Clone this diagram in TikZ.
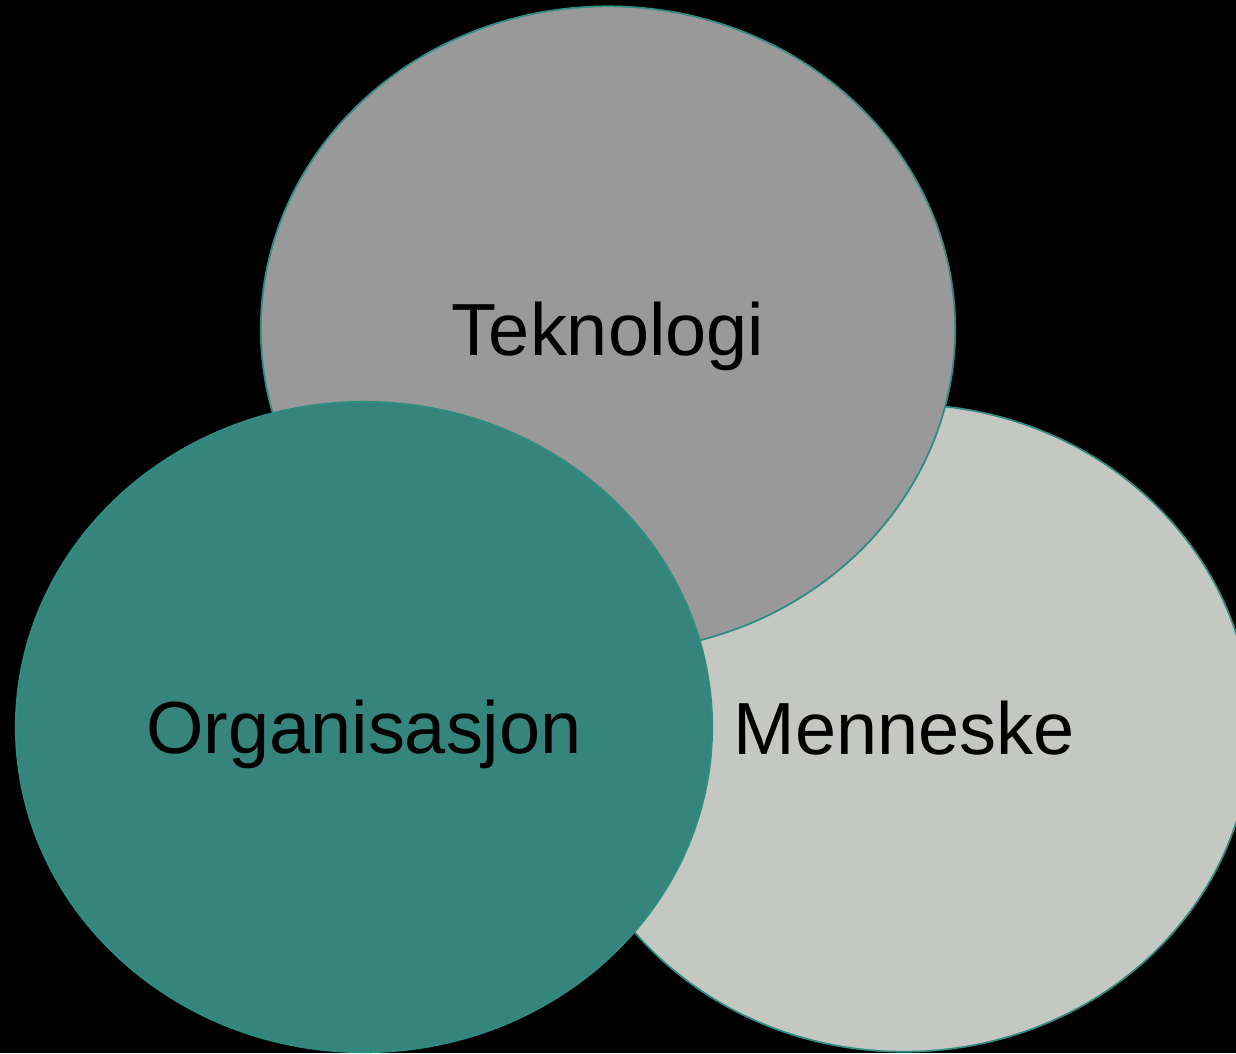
\documentclass[tikz,border=0pt]{standalone}
\usepackage{fontspec}
\setmainfont{Liberation Sans}
\usepackage{xcolor}
\definecolor{teal}{rgb}{0.21,0.52,0.49}
\definecolor{rim}{rgb}{0.18,0.55,0.50}
\definecolor{grey}{rgb}{0.60,0.60,0.60}
\definecolor{brightgrey}{rgb}{0.77,0.78,0.76}
\usepackage{tikz}
\usetikzlibrary{shapes.geometric}

\begin{document}
\begin{tikzpicture}
    [x=0.01cm, y=-0.01cm,
     blob/.style={ellipse, draw=rim, line width=0.5pt, inner sep=0pt,
                  text depth=0pt,
                  font=\fontsize{21}{25}\selectfont, text=black}]
    \fill[black] (0,0) rectangle (1236,1053);
    \useasboundingbox (0,0) rectangle (1236,1053);
    \clip (0,0) rectangle (1236,1053);
    % circles, back to front
    \node[blob, fill=brightgrey, minimum width=6.94cm, minimum height=6.47cm]
        (menneske) at (904,728) {Menneske};
    \node[blob, fill=grey, minimum width=6.94cm, minimum height=6.45cm]
        (teknologi) at (608,329) {Teknologi};
    \node[blob, fill=teal, minimum width=6.96cm, minimum height=6.50cm]
        (organisasjon) at (364,727) {Organisasjon};
\end{tikzpicture}
\end{document}
